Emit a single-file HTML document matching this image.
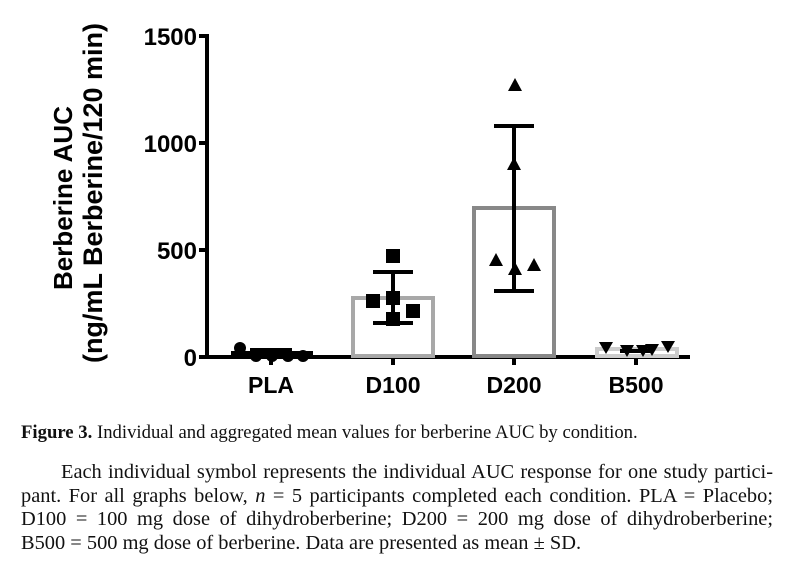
<!DOCTYPE html>
<html><head><meta charset="utf-8"><style>
body{margin:0;background:#fff;width:785px;height:568px;overflow:hidden;position:relative}
.cap{position:absolute;left:21px;top:422px;font:18.7px "Liberation Serif",serif;color:#111;white-space:nowrap}
.p{position:absolute;left:21px;top:461px;width:752px;font:20.4px/23.5px "Liberation Serif",serif;color:#111}
.p span{display:block;text-align:justify;text-align-last:justify;white-space:nowrap}
</style></head><body>
<svg width="785" height="420" style="position:absolute;left:0;top:0" font-family="Liberation Sans, sans-serif" font-weight="bold">
<g stroke="#000" stroke-width="4" fill="none">
<line x1="207" y1="34" x2="207" y2="359"/>
<line x1="205" y1="357" x2="690" y2="357"/>
<line x1="199" y1="36" x2="207" y2="36"/><line x1="199" y1="143" x2="207" y2="143"/><line x1="199" y1="250" x2="207" y2="250"/><line x1="199" y1="357" x2="207" y2="357"/>
<line x1="271" y1="357" x2="271" y2="365"/><line x1="393" y1="357" x2="393" y2="365"/><line x1="514" y1="357" x2="514" y2="365"/><line x1="636" y1="357" x2="636" y2="365"/>
</g>
<g font-size="24" text-anchor="end" fill="#000">
<text x="197" y="45">1500</text><text x="197" y="152">1000</text><text x="197" y="259">500</text><text x="197" y="366">0</text>
</g>
<g font-size="23" text-anchor="middle" fill="#000">
<text x="271" y="393">PLA</text><text x="393" y="393">D100</text><text x="514" y="393">D200</text><text x="636" y="393">B500</text>
</g>
<g text-anchor="middle" fill="#000" transform="rotate(-90)">
<text x="-198" y="72" font-size="26">Berberine AUC</text>
<text x="-193" y="102" font-size="27">(ng/mL  Berberine/120 min)</text>
</g>
<rect x="353" y="298" width="80" height="58" fill="none" stroke="#a8a8a8" stroke-width="4"/>
<rect x="474" y="208" width="80" height="148" fill="none" stroke="#888" stroke-width="4"/>
<rect x="597" y="349" width="80" height="7" fill="none" stroke="#ccc" stroke-width="4"/>
<g stroke="#000" stroke-width="4">
<line x1="393" y1="272" x2="393" y2="323"/><line x1="373" y1="272" x2="413" y2="272"/><line x1="373" y1="323" x2="413" y2="323"/>
<line x1="514" y1="126" x2="514" y2="291"/><line x1="494" y1="126" x2="534" y2="126"/><line x1="494" y1="291" x2="534" y2="291"/>
<line x1="231" y1="353" x2="313" y2="353"/><line x1="250" y1="350" x2="292" y2="350"/>
<line x1="620" y1="351" x2="652" y2="351"/>
</g>
<g fill="#000">
<circle cx="240" cy="348" r="6"/><circle cx="256" cy="356" r="6"/><circle cx="272" cy="356" r="6"/><circle cx="288" cy="356" r="6"/><circle cx="303" cy="356" r="6"/>
<rect x="386" y="249" width="14" height="14"/><rect x="366" y="294" width="14" height="14"/><rect x="386" y="291" width="14" height="14"/><rect x="406" y="304" width="14" height="14"/><rect x="386" y="312" width="14" height="14"/>
<polygon points="515,78 508,91 522,91"/><polygon points="514,157 507,170 521,170"/><polygon points="496,253 489,266 503,266"/><polygon points="515,262 508,275 522,275"/><polygon points="534,258 527,271 541,271"/>
<polygon points="599,342 613,342 606,354"/><polygon points="620,345 634,345 627,357"/><polygon points="636,345 650,345 643,357"/><polygon points="645,344 659,344 652,356"/><polygon points="661,341 675,341 668,353"/>
</g>
</svg>
<div class="cap"><b>Figure 3.</b> Individual and aggregated mean values for berberine AUC by condition.</div>
<div class="p">
<span style="padding-left:40px">Each individual symbol represents the individual AUC response for one study partici-</span>
<span>pant. For all graphs below, <i>n</i> = 5 participants completed each condition. PLA = Placebo;</span>
<span>D100 = 100 mg dose of dihydroberberine; D200 = 200 mg dose of dihydroberberine;</span>
<span style="text-align-last:left">B500 = 500 mg dose of berberine. Data are presented as mean ± SD.</span>
</div>
</body></html>
